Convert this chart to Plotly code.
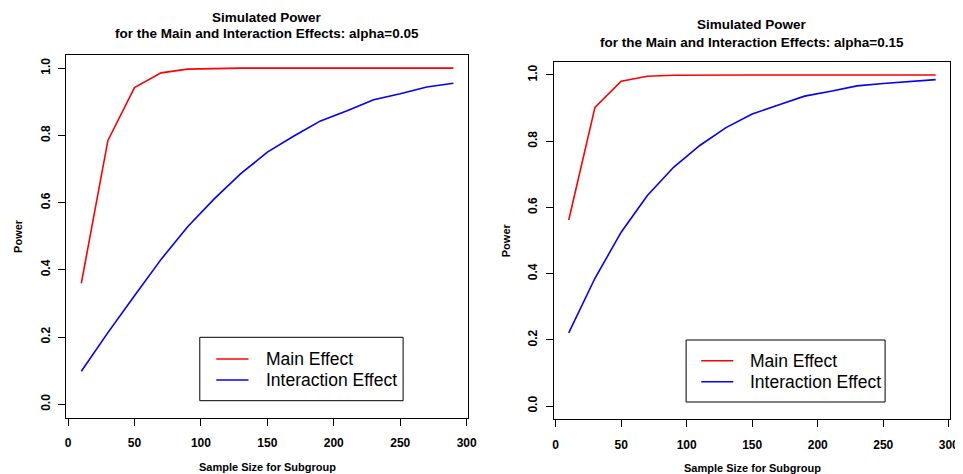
import plotly.graph_objects as go

# ---- data ----
sample_size = [10, 30, 50, 70, 90, 110, 130, 150, 170, 190, 210, 230, 250, 270, 290]

main_005 = [0.360, 0.785, 0.942, 0.986, 0.997, 0.999, 1.0, 1.0, 1.0, 1.0, 1.0, 1.0, 1.0, 1.0, 1.0]
inter_005 = [0.098, 0.213, 0.323, 0.431, 0.528, 0.611, 0.686, 0.750, 0.798, 0.843, 0.873, 0.906, 0.924, 0.944, 0.955]

main_015 = [0.562, 0.902, 0.981, 0.996, 0.999, 1.0, 1.0, 1.0, 1.0, 1.0, 1.0, 1.0, 1.0, 1.0, 1.0]
inter_015 = [0.221, 0.386, 0.525, 0.636, 0.721, 0.787, 0.841, 0.882, 0.909, 0.936, 0.951, 0.967, 0.974, 0.981, 0.986]

x_ticks = [0, 50, 100, 150, 200, 250, 300]
y_ticks = [0.0, 0.2, 0.4, 0.6, 0.8, 1.0]
series_names = ["Main Effect", "Interaction Effect"]
series_colors = ["#FF0000", "#0000FF"]
titles = [
    ("Simulated Power", "for the Main and Interaction Effects: alpha=0.05"),
    ("Simulated Power", "for the Main and Interaction Effects: alpha=0.15"),
]
x_title = "Sample Size for Subgroup"
y_title = "Power"

# page body has an 8px margin: figure is drawn 8px in from the window corner
OFF = 8
W, H = 963 - OFF, 474 - OFF
FONT = "Liberation Sans, Arial, Helvetica, sans-serif"


def px(x):
    return (x - OFF) / W


def py(y):
    return 1 - (y - OFF) / H


fig = go.Figure()

panels = [
    dict(data=(main_005, inter_005), xa="x", ya="y",
         box=(65.1, 471.6, 54.7, 417.7),
         title_y=(17.7, 33.6), xt_y=467.3, yt_x=15.8,
         leg=(200, 405.7, 337.3, 400.7), leg_line=(216.7, 249.3), leg_rows=(359, 380), leg_text=265),
    dict(data=(main_015, inter_015), xa="x2", ya="y2",
         box=(558.4, 959.3, 61.7, 419.3),
         title_y=(25.0, 42.0), xt_y=467.8, yt_x=510.5,
         leg=(692, 893.3, 340, 402), leg_line=(707.3, 739.7), leg_rows=(360.7, 381.7), leg_text=755),
]

shapes = []
annotations = []
for i, p in enumerate(panels):
    for vals, name, col in zip(p["data"], series_names, series_colors):
        fig.add_trace(go.Scatter(
            x=sample_size, y=vals, mode="lines", name=name,
            line=dict(color=col, width=1.6),
            xaxis=p["xa"], yaxis=p["ya"], showlegend=False,
        ))
    x0, x1, y0, y1 = p["box"]
    axis_common = dict(
        showgrid=False, zeroline=False, showline=True, mirror=True,
        linecolor="black", linewidth=1, ticks="outside", ticklen=7,
        tickcolor="black", tickwidth=1,
        tickfont=dict(family=FONT, size=12, color="black", weight="bold"),
    )
    sfx = "" if i == 0 else str(i + 1)
    fig.layout["xaxis" + sfx] = dict(
        domain=[px(x0), px(x1)], range=[-1.2, 301.2],
        tickvals=x_ticks, anchor="y" + sfx, ticklabelstandoff=7, **axis_common,
    )
    fig.layout["yaxis" + sfx] = dict(
        domain=[py(y1), py(y0)], range=[-0.04, 1.04],
        tickvals=y_ticks, tickformat=".1f", tickangle=-90,
        anchor="x" + sfx, ticklabelstandoff=4, **axis_common,
    )
    cx = (x0 + x1) / 2
    cy = (y0 + y1) / 2
    t1, t2 = titles[i]
    for txt, ty in zip((t1, t2), p["title_y"]):
        annotations.append(dict(
            text=txt, x=px(cx), y=py(ty), xref="paper", yref="paper",
            xanchor="center", yanchor="middle", showarrow=False,
            font=dict(family=FONT, size=13.5, color="black", weight="bold"),
        ))
    annotations.append(dict(
        text=x_title, x=px(cx), y=py(p["xt_y"]), xref="paper", yref="paper",
        xanchor="center", yanchor="middle", showarrow=False,
        font=dict(family=FONT, size=11, color="black", weight="bold"),
    ))
    annotations.append(dict(
        text=y_title, x=px(p["yt_x"]), y=py(cy), xref="paper", yref="paper",
        xanchor="center", yanchor="middle", showarrow=False, textangle=-90,
        font=dict(family=FONT, size=11, color="black", weight="bold"),
    ))
    # legend box
    lx0, lx1, ly0, ly1 = p["leg"]
    shapes.append(dict(type="rect", xref="paper", yref="paper",
                       x0=px(lx0), x1=px(lx1), y0=py(ly1), y1=py(ly0),
                       line=dict(color="black", width=1), fillcolor="rgba(0,0,0,0)"))
    for name, col, ry in zip(series_names, series_colors, p["leg_rows"]):
        shapes.append(dict(type="line", xref="paper", yref="paper",
                           x0=px(p["leg_line"][0]), x1=px(p["leg_line"][1]),
                           y0=py(ry), y1=py(ry), line=dict(color=col, width=1.6)))
        annotations.append(dict(
            text=name, x=px(p["leg_text"]), y=py(ry), xref="paper", yref="paper",
            xanchor="left", yanchor="middle", showarrow=False,
            font=dict(family=FONT, size=17.5, color="black"),
        ))

fig.update_layout(
    width=W, height=H, margin=dict(l=0, r=0, t=0, b=0),
    paper_bgcolor="white", plot_bgcolor="white",
    shapes=shapes, annotations=annotations, showlegend=False,
)

fig.write_html("out.html")
